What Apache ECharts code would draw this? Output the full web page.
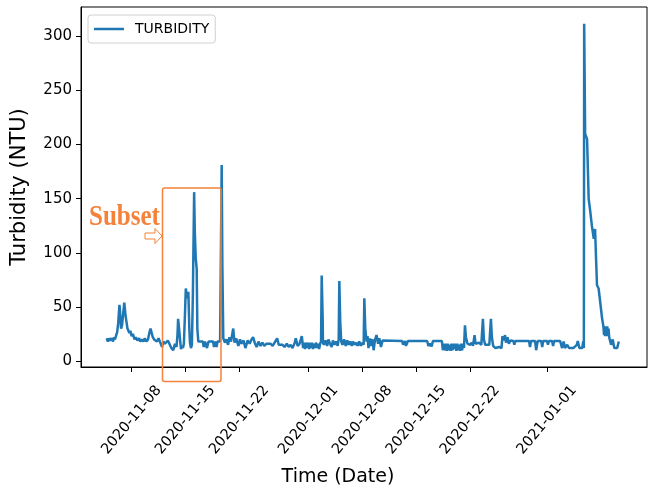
<!DOCTYPE html>
<html>
<head>
<meta charset="utf-8">
<script src="https://cdn.jsdelivr.net/npm/echarts@6/dist/echarts.min.js"></script>
<style>html,body{margin:0;padding:0;background:#fff}#c{width:654px;height:492px}</style>
</head>
<body>
<div id="c"></div>
<script>
const seriesName = 'TURBIDITY';
const xTickLabels = ['2020-11-08','2020-11-15','2020-11-22','2020-12-01','2020-12-08','2020-12-15','2020-12-22','2021-01-01'];
const yTickLabels = [0,50,100,150,200,250,300];
const times = [
'2020-11-04 18:00','2020-11-04 22:00','2020-11-05 01:00','2020-11-05 04:00','2020-11-05 09:00','2020-11-05 14:00','2020-11-05 17:00','2020-11-05 20:00',
'2020-11-06 00:00','2020-11-06 03:00','2020-11-06 06:00','2020-11-06 10:00','2020-11-06 12:00','2020-11-06 15:00','2020-11-06 18:00','2020-11-06 21:00',
'2020-11-07 01:00','2020-11-07 05:00','2020-11-07 08:00','2020-11-07 11:00','2020-11-07 14:00','2020-11-07 17:00','2020-11-07 20:00',
'2020-11-08 00:00','2020-11-08 04:00','2020-11-08 09:00','2020-11-08 13:00','2020-11-08 18:00','2020-11-08 23:00',
'2020-11-09 03:00','2020-11-09 08:00','2020-11-09 13:00','2020-11-09 17:00','2020-11-09 22:00',
'2020-11-10 03:00','2020-11-10 08:00','2020-11-10 11:00','2020-11-10 15:00','2020-11-10 18:00','2020-11-10 22:00',
'2020-11-11 02:00','2020-11-11 07:00','2020-11-11 12:00','2020-11-11 16:00','2020-11-11 19:00','2020-11-11 23:00',
'2020-11-12 03:00','2020-11-12 08:00','2020-11-12 13:00','2020-11-12 17:00','2020-11-12 23:00',
'2020-11-13 04:00','2020-11-13 10:00','2020-11-13 15:00','2020-11-13 20:00','2020-11-13 23:00',
'2020-11-14 01:00','2020-11-14 04:00','2020-11-14 07:00','2020-11-14 10:00','2020-11-14 13:00','2020-11-14 16:00','2020-11-14 19:00','2020-11-14 22:00',
'2020-11-15 01:00','2020-11-15 05:00','2020-11-15 09:00','2020-11-15 12:00','2020-11-15 14:00','2020-11-15 17:00','2020-11-15 20:00','2020-11-15 23:00',
'2020-11-16 03:00','2020-11-16 05:00','2020-11-16 08:00','2020-11-16 11:00','2020-11-16 13:00','2020-11-16 16:00',
'2020-11-17 06:00','2020-11-17 09:00','2020-11-17 13:00','2020-11-17 19:00',
'2020-11-18 00:00','2020-11-18 14:00','2020-11-18 17:00','2020-11-18 22:00',
'2020-11-19 01:00','2020-11-19 04:00','2020-11-19 12:00','2020-11-19 17:00','2020-11-19 19:00','2020-11-19 22:00',
'2020-11-20 03:00','2020-11-20 08:00','2020-11-20 13:00','2020-11-20 17:00','2020-11-20 22:00',
'2020-11-21 05:00','2020-11-21 09:00','2020-11-21 14:00','2020-11-21 21:00',
'2020-11-22 02:00','2020-11-22 06:00','2020-11-22 13:00','2020-11-22 19:00',
'2020-11-23 02:00','2020-11-23 08:00','2020-11-23 14:00','2020-11-23 19:00',
'2020-11-24 00:00','2020-11-24 06:00','2020-11-24 12:00','2020-11-24 18:00',
'2020-11-25 00:00','2020-11-25 06:00','2020-11-25 13:00','2020-11-25 19:00',
'2020-11-26 01:00','2020-11-26 08:00','2020-11-26 14:00','2020-11-26 22:00',
'2020-11-27 03:00','2020-11-27 09:00','2020-11-27 15:00','2020-11-27 21:00',
'2020-11-28 04:00','2020-11-28 10:00','2020-11-28 16:00','2020-11-28 22:00',
'2020-11-29 05:00','2020-11-29 08:00','2020-11-29 14:00','2020-11-29 20:00',
'2020-11-30 03:00','2020-11-30 07:00','2020-11-30 10:00','2020-11-30 13:00','2020-11-30 16:00','2020-11-30 20:00','2020-11-30 23:00',
'2020-12-01 02:00','2020-12-01 05:00','2020-12-01 08:00','2020-12-01 11:00','2020-12-01 14:00','2020-12-01 17:00','2020-12-01 20:00','2020-12-01 23:00',
'2020-12-02 03:00','2020-12-02 06:00','2020-12-02 09:00','2020-12-02 12:00','2020-12-02 15:00','2020-12-02 17:00','2020-12-02 20:00','2020-12-02 21:00',
'2020-12-03 00:00','2020-12-03 05:00','2020-12-03 10:00','2020-12-03 14:00','2020-12-03 19:00',
'2020-12-04 00:00','2020-12-04 04:00','2020-12-04 09:00','2020-12-04 14:00','2020-12-04 19:00','2020-12-04 22:00',
'2020-12-05 00:00','2020-12-05 03:00','2020-12-05 06:00','2020-12-05 10:00','2020-12-05 15:00','2020-12-05 20:00',
'2020-12-06 01:00','2020-12-06 05:00','2020-12-06 10:00','2020-12-06 15:00','2020-12-06 19:00',
'2020-12-07 00:00','2020-12-07 05:00','2020-12-07 09:00','2020-12-07 14:00','2020-12-07 19:00','2020-12-07 23:00',
'2020-12-08 04:00','2020-12-08 06:00','2020-12-08 09:00','2020-12-08 13:00','2020-12-08 16:00','2020-12-08 19:00',
'2020-12-09 00:00','2020-12-09 03:00','2020-12-09 08:00','2020-12-09 11:00','2020-12-09 15:00','2020-12-09 20:00',
'2020-12-10 01:00','2020-12-10 05:00','2020-12-10 10:00','2020-12-10 15:00','2020-12-10 18:00',
'2020-12-13 04:00','2020-12-13 07:00','2020-12-13 13:00','2020-12-13 16:00','2020-12-13 22:00',
'2020-12-16 10:00','2020-12-16 14:00','2020-12-16 19:00','2020-12-17 00:00','2020-12-17 04:00',
'2020-12-18 08:00','2020-12-18 11:00','2020-12-18 14:00','2020-12-18 17:00','2020-12-18 20:00','2020-12-18 23:00',
'2020-12-19 02:00','2020-12-19 05:00','2020-12-19 08:00','2020-12-19 11:00','2020-12-19 14:00','2020-12-19 17:00','2020-12-19 20:00','2020-12-19 23:00',
'2020-12-20 02:00','2020-12-20 05:00','2020-12-20 08:00','2020-12-20 11:00','2020-12-20 14:00','2020-12-20 17:00','2020-12-20 20:00','2020-12-20 23:00',
'2020-12-21 02:00','2020-12-21 05:00','2020-12-21 08:00','2020-12-21 11:00','2020-12-21 16:00',
'2020-12-22 00:00','2020-12-22 05:00','2020-12-22 09:00','2020-12-22 14:00','2020-12-22 17:00','2020-12-22 22:00',
'2020-12-23 04:00','2020-12-23 11:00','2020-12-23 16:00','2020-12-23 19:00','2020-12-23 23:00',
'2020-12-24 05:00','2020-12-24 12:00','2020-12-24 17:00','2020-12-24 20:00',
'2020-12-25 00:00','2020-12-25 07:00','2020-12-25 13:00','2020-12-25 19:00',
'2020-12-26 02:00','2020-12-26 05:00','2020-12-26 09:00','2020-12-26 13:00','2020-12-26 16:00','2020-12-26 21:00',
'2020-12-27 01:00','2020-12-27 06:00','2020-12-27 10:00','2020-12-27 15:00','2020-12-27 18:00','2020-12-27 21:00',
'2020-12-29 16:00','2020-12-29 19:00','2020-12-29 22:00',
'2020-12-30 11:00','2020-12-30 14:00','2020-12-30 19:00',
'2020-12-31 06:00','2020-12-31 09:00','2020-12-31 12:00',
'2021-01-01 00:00','2021-01-01 03:00','2021-01-01 06:00','2021-01-01 16:00','2021-01-01 19:00','2021-01-01 22:00',
'2021-01-02 17:00','2021-01-02 23:00',
'2021-01-03 04:00','2021-01-03 08:00','2021-01-03 15:00','2021-01-03 21:00',
'2021-01-04 03:00','2021-01-04 10:00','2021-01-04 16:00','2021-01-04 21:00',
'2021-01-05 00:00','2021-01-05 05:00','2021-01-05 09:00','2021-01-05 14:00','2021-01-05 17:00','2021-01-05 19:00','2021-01-05 20:00','2021-01-05 23:00',
'2021-01-06 05:00','2021-01-06 10:00','2021-01-06 15:00','2021-01-06 20:00',
'2021-01-07 02:00','2021-01-07 06:00','2021-01-07 09:00','2021-01-07 12:00','2021-01-07 17:00','2021-01-07 23:00',
'2021-01-08 04:00','2021-01-08 08:00','2021-01-08 10:00','2021-01-08 12:00','2021-01-08 14:00','2021-01-08 16:00','2021-01-08 18:00','2021-01-08 20:00','2021-01-08 22:00',
'2021-01-09 00:00','2021-01-09 02:00','2021-01-09 03:00','2021-01-09 08:00','2021-01-09 13:00','2021-01-09 18:00','2021-01-09 22:00',
'2021-01-10 03:00','2021-01-10 08:00'
];
const turbidity = [
21,18,21,19,21,18,22,20,
24,27,35,52,45,30,33,42,
54,42,36,30,31,26,28,
23,25,20,22,19,21,
18,20,18,21,18,
20,27,30,30,22,20,
21,18,21,18,19,13,
18,16,17,19,18,
12,10,16,13,24,
39,30,20,11,14,12,16,40,
67,58,64,30,17,12,15,60,
156,120,95,85,30,18,
18,13,18,12,
18,18,13,18,
13,18,18,181,90,21,
17,20,15,22,18,
30,17,21,14,
20,16,19,12,
19,16,20,22,
17,13,18,14,
17,14,16,15,
16,14,15,21,
15,14,15,13,
16,13,15,12,
17,21,14,16,
23,12,17,11,17,12,17,
11,17,12,17,11,16,12,17,
12,16,11,16,18,79,40,17,
15,19,14,20,16,
13,19,15,18,14,20,
74,35,18,15,20,14,
19,15,18,14,18,
15,17,14,18,14,17,
15,58,30,18,23,12,
21,14,20,10,19,24,
16,21,13,19,18.5,
18.5,15,18.5,14,18.5,
18.5,14,16,13.5,18.5,
18.5,10,16,10,16,9.5,
16,10,15,9.5,16,10,16,11,
16,9.5,16,10,15,9.5,16,10,
16,12,33,22,16,
15,17,14,24,16,15,
17,15,39,20,15,
16,15,39,22,
14,12,12,13,
12,23,19,24,17,22,
16,19,18.5,18.5,15,18.5,
18.5,13,18.5,
18.5,10,18.5,
18.5,13,18.5,
18.5,15,18.5,18.5,14,18.5,
18.5,12,
18,12,15,12,
12,12,12,15,
18.5,12,12,12,18,12,311.6,210,
205,150,138,125,
113,122,95,70,67,52,
39,32,24,32,23,31,24,32,23,
30,22,21,15,20,12,12,
12,18
];

const parse = s => echarts.number.parseDate(s).getTime();
const data = times.map((t, i) => [parse(t), turbidity[i]]);
const xTicks = xTickLabels.map(parse);
const pad = n => (n < 10 ? '0' : '') + n;
const fmt = v => { const d = new Date(v); return d.getFullYear() + '-' + pad(d.getMonth() + 1) + '-' + pad(d.getDate()); };

const FONT = 'DejaVu Sans';
const ORANGE = '#f5823a';
const chart = echarts.init(document.getElementById('c'), null, {renderer: 'canvas'});
chart.setOption({
  animation: false,
  backgroundColor: '#fff',
  grid: {left: 81, right: 7, top: 7, bottom: 123, show: true, borderColor: '#000', borderWidth: 1, backgroundColor: 'transparent'},
  legend: {
    left: 88, top: 15, orient: 'horizontal',
    padding: [7, 6, 7, 6],
    itemWidth: 30, itemHeight: 14, itemGap: 10,
    borderColor: '#d0d0d0', borderWidth: 1, borderRadius: 3,
    textStyle: {fontFamily: FONT, fontSize: 14, color: '#000', padding: [0, 0, 0, 6]},
    data: [{name: seriesName, icon: 'path://M0,6L30,6L30,8.5L0,8.5Z'}]
  },
  xAxis: {
    type: 'value',
    min: parse('2020-11-01 10:00'),
    max: parse('2021-01-14 00:00'),
    splitLine: {show: false},
    axisLine: {show: true, onZero: false, lineStyle: {color: '#000', width: 1}},
    axisTick: {show: true, customValues: xTicks, length: 5, inside: false, lineStyle: {color: '#000'}},
    axisLabel: {
      customValues: xTicks, rotate: 50, align: 'center', verticalAlign: 'middle', margin: 53,
      fontFamily: FONT, fontSize: 14.5, color: '#000', formatter: v => fmt(v), hideOverlap: false
    },
    name: 'Time (Date)', nameLocation: 'middle', nameGap: 101,
    nameTextStyle: {fontFamily: FONT, fontSize: 19, color: '#000', padding: [0, 52, 0, 0]}
  },
  yAxis: {
    type: 'value', min: -5.5, max: 327,
    splitLine: {show: false},
    axisLine: {show: true, onZero: false, lineStyle: {color: '#000', width: 1}},
    axisTick: {show: true, customValues: yTickLabels, length: 5, inside: false, lineStyle: {color: '#000'}},
    axisLabel: {customValues: yTickLabels, margin: 9, fontFamily: FONT, fontSize: 15, color: '#000'},
    name: 'Turbidity (NTU)', nameLocation: 'middle', nameGap: 51,
    nameTextStyle: {fontFamily: FONT, fontSize: 21, color: '#000'}
  },
  series: [{
    name: seriesName, type: 'line', data: data, symbol: 'none', showSymbol: false,
    lineStyle: {color: '#1f77b4', width: 2.5}, itemStyle: {color: '#1f77b4'}, z: 2
  }],
  graphic: [
    {type: 'rect', shape: {x: 162.5, y: 188, width: 58.5, height: 193.5, r: 2}, style: {fill: 'none', stroke: ORANGE, lineWidth: 1.5}, z: 100},
    {type: 'text', x: 89, y: 203, scaleY: 1.15, style: {text: 'Subset', fill: ORANGE, font: 'bold 25px "Liberation Serif", serif', textVerticalAlign: 'top'}, z: 100},
    {type: 'polygon', shape: {points: [[145,233],[155,233],[155,228.5],[162,236],[155,243.5],[155,239],[145,239]]}, style: {fill: '#fff', stroke: ORANGE, lineWidth: 1}, z: 100}
  ]
});
</script>
</body>
</html>
